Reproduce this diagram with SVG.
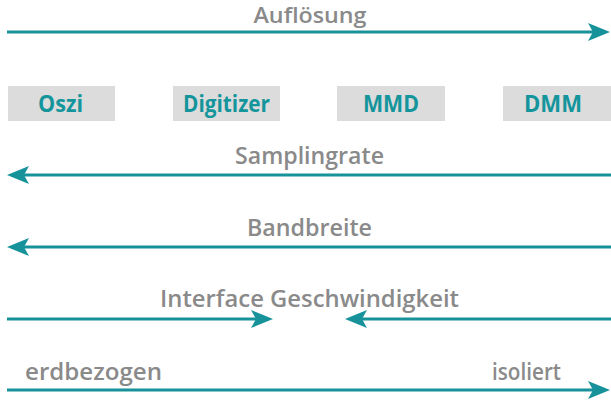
<svg xmlns="http://www.w3.org/2000/svg" width="611" height="400" viewBox="0 0 611 400">
  <style>
    .lbl { font-family: "Open Sans", "Noto Sans", sans-serif; font-weight: 600; font-size: 23.5px; fill: #8a8a8a; }
    .node-text { font-family: "Open Sans", "Noto Sans", sans-serif; font-weight: 700; font-size: 23px; fill: #14959c; text-anchor: middle; }
    .box { fill: #dcdcdc; }
    .arrow { stroke: #17929a; stroke-width: 3; fill: none; marker-end: url(#ah); }
  </style>
  <defs>
    <marker id="ah" viewBox="0 0 22 18" refX="10" refY="9" markerWidth="22" markerHeight="18" markerUnits="userSpaceOnUse" orient="auto">
      <path d="M0,0 L22,9 L0,18 L5,9 Z" fill="#17929a"/>
    </marker>
  </defs>
  <rect width="611" height="400" fill="#ffffff"/>

  <g id="node-oszi">
    <rect class="box" x="8" y="86" width="107" height="35"/>
    <text class="node-text" x="60.5" y="112" textLength="45" lengthAdjust="spacingAndGlyphs">Oszi</text>
  </g>
  <g id="node-digitizer">
    <rect class="box" x="173" y="86" width="107" height="35"/>
    <text class="node-text" x="226.5" y="112" textLength="87" lengthAdjust="spacingAndGlyphs">Digitizer</text>
  </g>
  <g id="node-mmd">
    <rect class="box" x="337" y="86" width="108" height="35"/>
    <text class="node-text" x="391" y="112" textLength="56" lengthAdjust="spacingAndGlyphs">MMD</text>
  </g>
  <g id="node-dmm">
    <rect class="box" x="503" y="86" width="108" height="35"/>
    <text class="node-text" x="553" y="112" textLength="58" lengthAdjust="spacingAndGlyphs">DMM</text>
  </g>

  <g id="connectors">
    <line class="arrow" x1="7" y1="32" x2="598" y2="32"/>
    <line class="arrow" x1="611" y1="175" x2="19" y2="175"/>
    <line class="arrow" x1="611" y1="247" x2="19" y2="247"/>
    <line class="arrow" x1="7" y1="319" x2="261" y2="319"/>
    <line class="arrow" x1="611" y1="319" x2="357" y2="319"/>
    <line class="arrow" x1="7" y1="390" x2="598" y2="390"/>
  </g>

  <g id="labels">
    <text class="lbl" x="310" y="22.5" text-anchor="middle" style="font-size:21px" textLength="113" lengthAdjust="spacingAndGlyphs">Auflösung</text>
    <text class="lbl" x="309.5" y="164" text-anchor="middle" textLength="149" lengthAdjust="spacingAndGlyphs">Samplingrate</text>
    <text class="lbl" x="309.5" y="236" text-anchor="middle" textLength="125" lengthAdjust="spacingAndGlyphs">Bandbreite</text>
    <text class="lbl" x="309.5" y="307" text-anchor="middle" textLength="299" lengthAdjust="spacingAndGlyphs">Interface Geschwindigkeit</text>
    <text class="lbl" x="25" y="380" textLength="137" lengthAdjust="spacingAndGlyphs">erdbezogen</text>
    <text class="lbl" x="492" y="380" textLength="69" lengthAdjust="spacingAndGlyphs">isoliert</text>
  </g>
</svg>
